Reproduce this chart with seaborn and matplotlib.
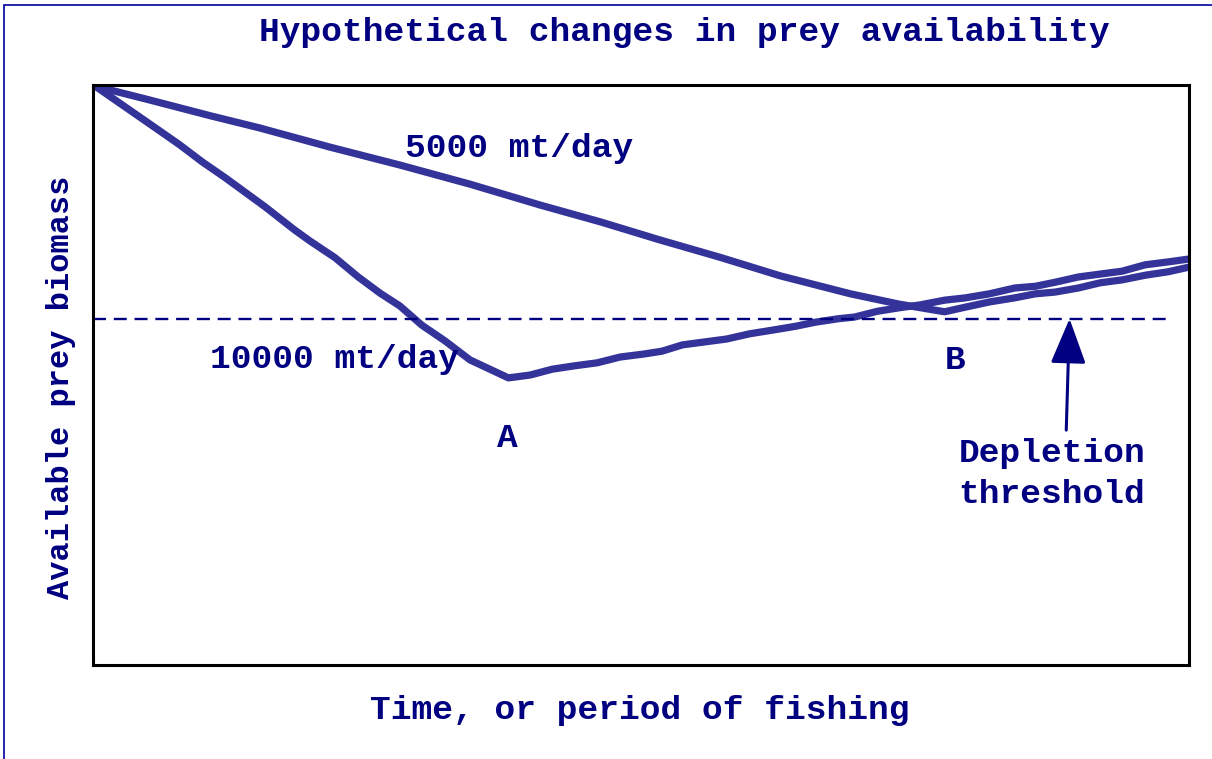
import matplotlib
matplotlib.use("Agg")
import matplotlib.pyplot as plt
import matplotlib.patches as mpatches
import seaborn as sns
import pandas as pd

# values (time 0-100, biomass 0-100)
time_10000 = [0.2, 5.7, 7.9, 10.0, 12.0, 15.7, 18.4, 19.8, 22.1, 24.2, 26.2, 28.0,
              30.0, 32.1, 34.4, 37.9, 39.9, 41.9, 44.0, 46.0, 48.1, 50.2, 51.9,
              53.8, 55.8, 57.8, 59.9, 62.2, 64.1, 65.9, 68.0, 69.5, 71.6, 73.6,
              75.5, 77.7, 79.6, 81.8, 84.1, 86.0, 87.8, 89.9, 91.9, 93.9, 96.0,
              98.1, 100.0]
biomass_10000 = [99.8, 92.6, 89.7, 86.7, 84.1, 79.0, 75.0, 73.1, 70.2, 66.9, 64.1,
                 61.9, 58.6, 55.9, 52.6, 49.5, 50.0, 51.0, 51.6, 52.1, 53.1, 53.6,
                 54.1, 55.2, 55.7, 56.2, 57.1, 57.8, 58.4, 59.1, 59.7, 60.0, 61.0,
                 61.6, 62.1, 62.9, 63.3, 64.0, 65.0, 65.3, 66.0, 66.9, 67.4, 67.9,
                 69.0, 69.5, 70.0]

time_5000 = [0.2, 5.2, 10.7, 15.2, 21.6, 28.0, 34.4, 40.8, 46.3, 51.7, 57.2, 62.7,
             69.1, 73.6, 77.7, 79.6, 81.8, 84.1, 86.0, 87.8, 89.9, 91.9, 93.9,
             96.0, 98.1, 100.0]
biomass_5000 = [99.8, 97.4, 94.7, 92.6, 89.3, 86.2, 82.9, 79.3, 76.4, 73.3, 70.3,
                67.1, 64.0, 62.2, 60.9, 61.7, 62.6, 63.3, 64.0, 64.3, 65.0, 65.9,
                66.4, 67.2, 67.8, 68.6]

threshold = 59.7

df10 = pd.DataFrame({"time": time_10000, "biomass": biomass_10000})
df5 = pd.DataFrame({"time": time_5000, "biomass": biomass_5000})

sns.set_style("white")
plt.rcParams['font.family'] = ['Liberation Mono', 'DejaVu Sans']
plt.rcParams['font.weight'] = 'bold'

line_col = "#333399"
text_col = "#000080"
W, H = 1212, 759

fig = plt.figure(figsize=(W / 100, H / 100), dpi=100)
ax = fig.add_axes([93 / W, 1 - 665 / H, 1096 / W, 580 / H])

sns.lineplot(data=df10, x="time", y="biomass", ax=ax, color=line_col, linewidth=5.2,
             sort=False, estimator=None)
sns.lineplot(data=df5, x="time", y="biomass", ax=ax, color=line_col, linewidth=5.2,
             sort=False, estimator=None)
ax.plot([0, 98], [threshold, threshold], color=text_col, linewidth=1.7,
        linestyle=(0, (5.5, 3.3)))

ax.set_xlim(0, 100)
ax.set_ylim(0, 100)
ax.set_xticks([])
ax.set_yticks([])
ax.set_xlabel("")
ax.set_ylabel("")
for s in ax.spines.values():
    s.set_color("black")
    s.set_linewidth(2.2)
    s.set_visible(True)

def px(x, y):
    return x / W, 1 - y / H

fs = 24.8
kw = dict(color=text_col, fontweight="bold", fontsize=fs)
fig.text(*px(684, 41), "Hypothetical changes in prey availability", ha="center",
         va="baseline", **kw)
fig.text(*px(640, 719), "Time, or period of fishing", ha="center", va="baseline", **kw)
fig.text(*px(61, 387), "Available prey biomass", ha="center", va="center",
         rotation=90, color=text_col, fontweight="bold", fontsize=23)
fig.text(*px(519, 157), "5000 mt/day", ha="center", va="baseline", **kw)
fig.text(*px(334, 368), "10000 mt/day", ha="center", va="baseline", **kw)
fig.text(*px(507, 447), "A", ha="center", va="baseline", **kw)
fig.text(*px(955, 369), "B", ha="center", va="baseline", **kw)
fig.text(*px(1052, 462), "Depletion", ha="center", va="baseline", **kw)
fig.text(*px(1052, 503), "threshold", ha="center", va="baseline", **kw)

ax.annotate("", xy=(89.1, threshold), xytext=(88.8, 40.5),
            arrowprops=dict(arrowstyle="-|>,head_length=1.4,head_width=0.55",
                            color=text_col, lw=2.2, mutation_scale=20,
                            shrinkA=0, shrinkB=0))

# thin frame around the picture (only top and left show)
fig.patches.append(mpatches.Rectangle(px(4, 900), 2, 1 - 4.5 / H - (1 - 900 / H),
                                      transform=fig.transFigure, fill=False,
                                      edgecolor="#0000a0", linewidth=1.2))

fig.savefig("out.png", dpi=100)
